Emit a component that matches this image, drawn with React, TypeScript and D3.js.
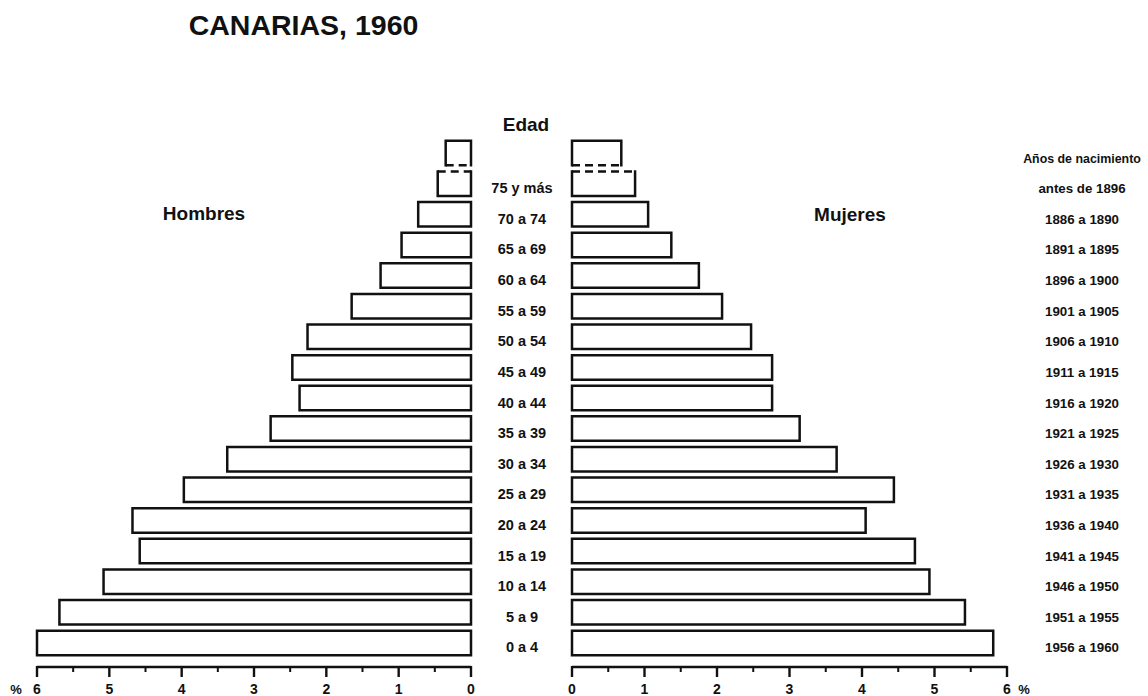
import React from "react";
import * as d3 from "d3";

const ageLabels = ["", "75 y más", "70 a 74", "65 a 69", "60 a 64", "55 a 59", "50 a 54", "45 a 49", "40 a 44", "35 a 39", "30 a 34", "25 a 29", "20 a 24", "15 a 19", "10 a 14", "5 a 9", "0 a 4"];
const birthLabels = ["Años de nacimiento", "antes de 1896", "1886 a 1890", "1891 a 1895", "1896 a 1900", "1901 a 1905", "1906 a 1910", "1911 a 1915", "1916 a 1920", "1921 a 1925", "1926 a 1930", "1931 a 1935", "1936 a 1940", "1941 a 1945", "1946 a 1950", "1951 a 1955", "1956 a 1960"];
const hombres = [0.35, 0.46, 0.73, 0.96, 1.25, 1.65, 2.26, 2.47, 2.37, 2.77, 3.37, 3.97, 4.68, 4.58, 5.08, 5.69, 6.0];
const mujeres = [0.68, 0.87, 1.05, 1.37, 1.75, 2.07, 2.47, 2.76, 2.76, 3.14, 3.65, 4.44, 4.05, 4.73, 4.93, 5.42, 5.81];
const majorTicks = [0, 1, 2, 3, 4, 5, 6];
const minorTicks = [0.5, 1.5, 2.5, 3.5, 4.5, 5.5];
const title = "CANARIAS, 1960";

const FONT = "'Liberation Sans', Arial, Helvetica, sans-serif";

export default function App() {
  const W = 1148, H = 696;
  const y = d3.scaleBand<number>().domain(d3.range(ageLabels.length)).range([137.7, 658.3]).paddingInner(0.2).paddingOuter(0.1);
  const xL = d3.scaleLinear().domain([0, 6]).range([471, 37]);
  const xR = d3.scaleLinear().domain([0, 6]).range([572, 1007]);
  const bw = y.bandwidth();
  const axisY = 667;
  const sw = 2.5;

  const barPath = (x0: number, x1: number, y0: number, y1: number, dashedSide: "top" | "bottom" | null, key: string) => {
    const solid: string[] = [];
    const dashed: string[] = [];
    solid.push(`M${x0},${y0}L${x0},${y1}`);
    solid.push(`M${x1},${y0}L${x1},${y1}`);
    const top = `M${x0},${y0}L${x1},${y0}`;
    const bot = `M${x0},${y1}L${x1},${y1}`;
    if (dashedSide === "top") { dashed.push(top); solid.push(bot); }
    else if (dashedSide === "bottom") { dashed.push(bot); solid.push(top); }
    else { solid.push(top); solid.push(bot); }
    return (
      <g key={key}>
        <rect x={Math.min(x0, x1)} y={y0} width={Math.abs(x1 - x0)} height={y1 - y0} fill="#fff" />
        <path d={solid.join("")} fill="none" stroke="#111" strokeWidth={sw} strokeLinecap="square" />
        {dashed.length > 0 && <path d={dashed.join("")} fill="none" stroke="#111" strokeWidth={sw} strokeDasharray="8,5" />}
      </g>
    );
  };

  return (
    <svg width={W} height={H} style={{ position: "absolute", left: 0, top: 0, display: "block", background: "#fff" }} fontFamily={FONT}>
      <rect x={0} y={0} width={W} height={H} fill="#fff" />
      <text x={303.5} y={35} textAnchor="middle" fontSize={28.5} fontWeight="bold" fill="#111">{title}</text>
      <text x={526} y={131} textAnchor="middle" fontSize={19} fontWeight="bold" fill="#111">Edad</text>
      <text x={204} y={220} textAnchor="middle" fontSize={19} fontWeight="bold" fill="#111">Hombres</text>
      <text x={850} y={221} textAnchor="middle" fontSize={19} fontWeight="bold" fill="#111">Mujeres</text>

      {hombres.map((v, i) => {
        const y0 = y(i)!, y1 = y0 + bw;
        const dashed = i === 0 ? "bottom" : i === 1 ? "top" : null;
        return barPath(xL(v), xL(0), y0, y1, dashed as any, "h" + i);
      })}
      {mujeres.map((v, i) => {
        const y0 = y(i)!, y1 = y0 + bw;
        const dashed = i === 0 ? "bottom" : i === 1 ? "top" : null;
        return barPath(xR(0), xR(v), y0, y1, dashed as any, "m" + i);
      })}

      {ageLabels.map((l, i) => (
        <text key={"a" + i} x={522} y={y(i)! + bw / 2 + 9.5} textAnchor="middle" fontSize={14.5} fontWeight="bold" fill="#111">{l}</text>
      ))}
      {birthLabels.map((l, i) => (
        <text key={"b" + i} x={1082} y={y(i)! + bw / 2 + 9.5} textAnchor="middle" fontSize={i === 0 ? 12.4 : 13.3} fontWeight="bold" fill="#111">{l}</text>
      ))}

      {[xL, xR].map((sc, k) => (
        <g key={"ax" + k}>
          <line x1={sc(0)} x2={sc(6)} y1={axisY} y2={axisY} stroke="#111" strokeWidth={2.5} />
          {majorTicks.map(t => (
            <line key={"M" + t} x1={sc(t)} x2={sc(t)} y1={axisY - 1} y2={axisY + 10} stroke="#111" strokeWidth={2.4} />
          ))}
          {minorTicks.map(t => (
            <line key={"m" + t} x1={sc(t)} x2={sc(t)} y1={axisY} y2={axisY + 5} stroke="#111" strokeWidth={2} />
          ))}
          {majorTicks.map(t => (
            <text key={"t" + t} x={sc(t)} y={694} textAnchor="middle" fontSize={14} fontWeight="bold" fill="#111">{t}</text>
          ))}
        </g>
      ))}
      <text x={16} y={694} textAnchor="middle" fontSize={13} fontWeight="bold" fill="#111">%</text>
      <text x={1024} y={694} textAnchor="middle" fontSize={13} fontWeight="bold" fill="#111">%</text>
    </svg>
  );
}
